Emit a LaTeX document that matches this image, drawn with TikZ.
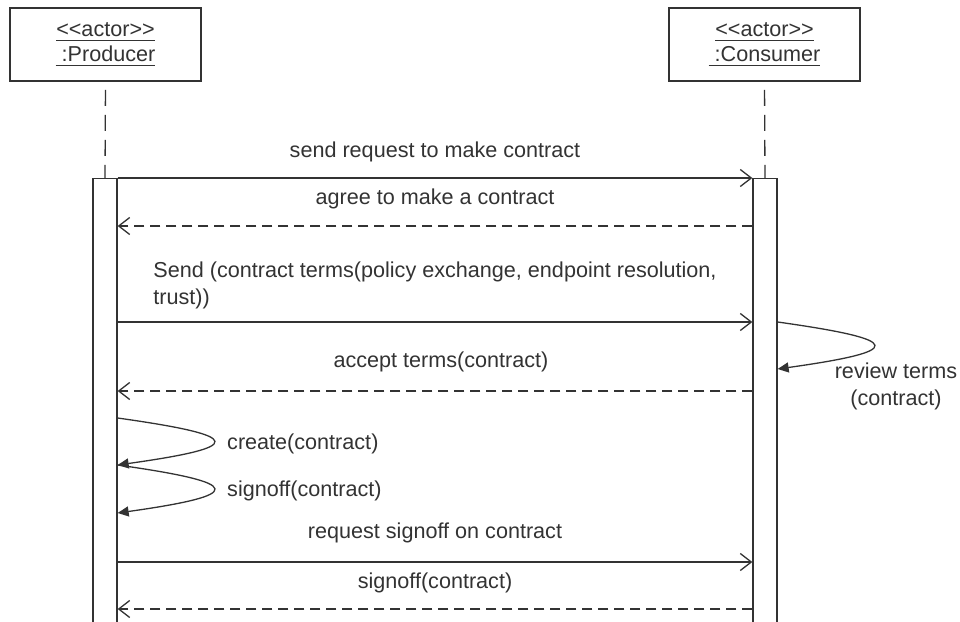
\documentclass[tikz,border=0pt]{standalone}
\usepackage{fontspec}
\setmainfont{Liberation Sans}[Ligatures=TeXOff]
\usetikzlibrary{arrows.meta}

% underlined text with the rule set a few points below the baseline
\newcommand{\ulbox}[1]{\setbox0\hbox{#1}\rlap{\usebox0}\rule[-5pt]{\wd0}{1.2pt}}

\tikzset{
  ink/.style={draw=black!80, line width=1.3pt},
  actor/.style={ink, line width=1.6pt, rectangle, minimum width=191pt, minimum height=73pt,
    inner sep=0pt, align=center, font=\fontsize{21.6}{26}\selectfont, text=black!80},
  actbar/.style={ink, rectangle, minimum width=24pt, minimum height=470pt, inner sep=0pt, anchor=north, fill=white},
  lifeline/.style={ink, dash pattern=on 16pt off 9pt, shorten <=8pt},
  callmsg/.style={ink, -{Straight Barb[length=11pt,width=17pt,line width=1.3pt]}},
  replymsg/.style={ink, dash pattern=on 10pt off 6pt, -{Straight Barb[length=11pt,width=17pt,line width=1.3pt]}},
  selfmsg/.style={ink, -{Triangle[length=11pt,width=10pt]}},
  lbl/.style={anchor=base, inner sep=0pt, font=\fontsize{21.6}{27}\selectfont, text=black!80},
}

\begin{document}
\begin{tikzpicture}[x=1pt,y=-1pt]
\useasboundingbox (0,0) rectangle (960,621);
\clip (0,0) rectangle (960,621);
\fill[white] (0,0) rectangle (960,621);

% participants
\node[actor] (prod) at (105.5,44.5) {\ulbox{<<actor>>}\\[-1pt]\ulbox{\ :Producer}};
\node[actor] (cons) at (764.5,44.5) {\ulbox{<<actor>>}\\[-1pt]\ulbox{\ :Consumer}};

% activation bars
\node[actbar] (pbar) at (105,178) {};
\node[actbar] (cbar) at (765,178) {};

% lifelines
\draw[lifeline] (prod.south) -- (pbar.north);
\draw[lifeline] (cons.south) -- (cbar.north);

% message rows
\coordinate (r1) at (0,178);
\coordinate (r2) at (0,226);
\coordinate (r3) at (0,322);
\coordinate (r4) at (0,369);
\coordinate (r5) at (0,391);
\coordinate (r6) at (0,418);
\coordinate (r7) at (0,465);
\coordinate (r8) at (0,513);
\coordinate (r9) at (0,562);
\coordinate (r10) at (0,609);

% messages
\node[lbl] (t1) at (435,157) {send request to make contract};
\draw[callmsg] (pbar.east |- r1) -- (cbar.west |- r1);

\node[lbl] (t2) at (435,204) {agree to make a contract};
\draw[replymsg] (cbar.west |- r2) -- (pbar.east |- r2);

% multi-line labels: base anchor sits on the last line
\node[lbl, align=left] (t3) at (435,304) {Send (contract terms(policy exchange, endpoint resolution,\\trust))};
\draw[callmsg] (pbar.east |- r3) -- (cbar.west |- r3);

\draw[selfmsg] (cbar.east |- r3) .. controls +(128,18) and +(128,-18) .. (cbar.east |- r4);
\node[lbl, align=center] (t4) at (896,405) {review terms\\(contract)};

\node[lbl] (t5) at (441,367) {accept terms(contract)};
\draw[replymsg] (cbar.west |- r5) -- (pbar.east |- r5);

\draw[selfmsg] (pbar.east |- r6) .. controls +(128,18) and +(128,-18) .. (pbar.east |- r7);
\node[lbl, anchor=base west] (t6) at (227,449) {create(contract)};

\draw[selfmsg] (pbar.east |- r7) .. controls +(128,18) and +(128,-18) .. (pbar.east |- r8);
\node[lbl, anchor=base west] (t7) at (227,496) {signoff(contract)};

\node[lbl] (t8) at (435,538) {request signoff on contract};
\draw[callmsg] (pbar.east |- r9) -- (cbar.west |- r9);

\node[lbl] (t9) at (435,588) {signoff(contract)};
\draw[replymsg] (cbar.west |- r10) -- (pbar.east |- r10);
\end{tikzpicture}
\end{document}
